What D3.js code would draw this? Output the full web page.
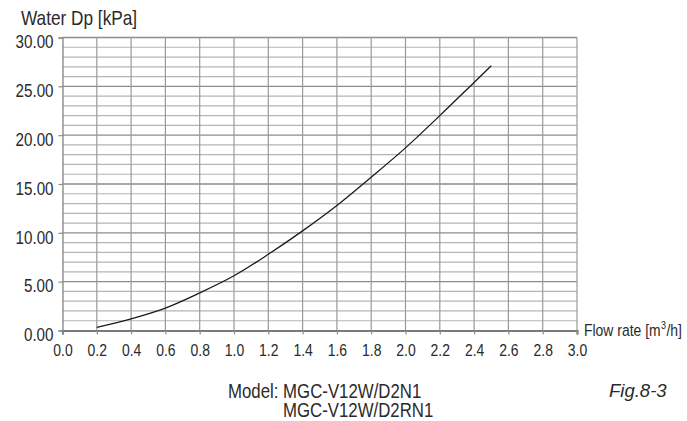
<!DOCTYPE html>
<html>
<head>
<meta charset="utf-8">
<script src="https://cdn.jsdelivr.net/npm/d3@7"></script>
<style>
  html, body { margin: 0; padding: 0; background: #fff; }
  svg { display: block; }
  text { font-family: "Liberation Sans", Arial, sans-serif; fill: #2a2a2a; }
</style>
</head>
<body>
<svg id="chart" width="687" height="421"></svg>
<script>
// Flow rate (m3/h) vs water pressure drop (kPa)
const flowRate = [0.2, 0.4, 0.6, 0.8, 1.0, 1.2, 1.4, 1.6, 1.8, 2.0, 2.2, 2.4, 2.5];
const pressureDrop = [0.33, 1.2, 2.3, 3.85, 5.6, 7.8, 10.2, 12.8, 15.7, 18.7, 22.0, 25.4, 27.1];

const xTicks = [0.0, 0.2, 0.4, 0.6, 0.8, 1.0, 1.2, 1.4, 1.6, 1.8, 2.0, 2.2, 2.4, 2.6, 2.8, 3.0];
const yTicks = [0, 5, 10, 15, 20, 25, 30];
const yMinorTicks = d3.range(1, 31);

const yTitle = "Water Dp [kPa]";
const modelLines = ["Model: MGC-V12W/D2N1", "MGC-V12W/D2RN1"];
const figLabel = "Fig.8-3";

const NARROW = 0.82; // condensed look for the sans labels

// squeeze a text element horizontally, keeping its anchor point
function narrow(selection) {
  selection.each(function () {
    const len = this.getComputedTextLength();
    d3.select(this)
      .attr("textLength", len * NARROW)
      .attr("lengthAdjust", "spacingAndGlyphs");
  });
}

const svg = d3.select("#chart");

const x = d3.scaleLinear().domain([0, 3]).range([62.5, 577]);
const y = d3.scaleLinear().domain([0, 30]).range([330.5, 37.5]);

const grid = svg.append("g");

// horizontal grid: every 1 kPa, slightly darker every 5 kPa
grid.selectAll("line.h")
  .data(yMinorTicks)
  .join("line")
  .attr("x1", x(0)).attr("x2", x(3))
  .attr("y1", d => y(d)).attr("y2", d => y(d))
  .attr("stroke", d => d % 5 === 0 ? "#8c8c8c" : "#b4b4b4")
  .attr("stroke-width", d => d % 5 === 0 ? 1.4 : 1.2);

// vertical grid: every 0.2 m3/h
grid.selectAll("line.v")
  .data(xTicks.slice(1))
  .join("line")
  .attr("x1", d => x(d)).attr("x2", d => x(d))
  .attr("y1", y(30)).attr("y2", y(0))
  .attr("stroke", "#9a9a9a")
  .attr("stroke-width", 1.2);

// left axis
const yAxis = d3.axisLeft(y)
  .tickValues(yTicks)
  .tickSize(4)
  .tickPadding(5)
  .tickFormat(d3.format(".2f"));
const gy = svg.append("g").attr("transform", `translate(${x(0)},0)`).call(yAxis);
gy.attr("font-family", null).attr("font-size", null);
gy.select(".domain").attr("stroke", "#8c8c8c").attr("stroke-width", 1.4);
gy.selectAll(".tick line").attr("stroke", "#8c8c8c").attr("stroke-width", 1.2);
gy.selectAll(".tick text")
  .attr("font-size", 18.5)
  .attr("dy", "0.55em")
  .attr("fill", "#2a2a2a")
  .call(narrow);

// bottom axis
const xAxis = d3.axisBottom(x)
  .tickValues(xTicks)
  .tickSize(4)
  .tickPadding(9)
  .tickFormat(d3.format(".1f"));
const gx = svg.append("g").attr("transform", `translate(0,${y(0)})`).call(xAxis);
gx.attr("font-family", null).attr("font-size", null);
gx.select(".domain").attr("stroke", "#7a7a7a").attr("stroke-width", 2.2);
gx.selectAll(".tick line").attr("stroke", "#8c8c8c").attr("stroke-width", 1.2);
gx.selectAll(".tick text")
  .attr("font-size", 17)
  .attr("fill", "#2a2a2a")
  .call(narrow);

// pressure drop curve
const line = d3.line()
  .x((d, i) => x(flowRate[i]))
  .y(d => y(d))
  .curve(d3.curveCatmullRom);
svg.append("path")
  .datum(pressureDrop)
  .attr("d", line)
  .attr("fill", "none")
  .attr("stroke", "#1a1a1a")
  .attr("stroke-width", 1.3);

// y-axis title
svg.append("text")
  .attr("x", 21).attr("y", 24.5)
  .attr("font-size", 21)
  .text(yTitle)
  .call(narrow);

// x-axis title with superscript unit, condensed through a horizontal scale
const xt = svg.append("g")
  .attr("transform", `translate(584,336) scale(${NARROW},1)`)
  .append("text")
  .attr("font-size", 17);
xt.append("tspan").text("Flow rate [m");
xt.append("tspan").attr("font-size", 11).attr("dx", 0.5).attr("baseline-shift", "7").text("3");
xt.append("tspan").attr("dx", 0.5).text("/h]");

// model caption, two lines in one text block
const mt = svg.append("g")
  .attr("transform", `translate(228,0) scale(${NARROW},1)`)
  .append("text")
  .attr("font-size", 20.5);
mt.append("tspan").attr("x", 0).attr("y", 398).text(modelLines[0]);
mt.append("tspan").attr("x", (283 - 228) / NARROW).attr("y", 417.5).text(modelLines[1]);

svg.append("text")
  .attr("x", 609).attr("y", 397)
  .attr("font-style", "italic")
  .attr("font-size", 18.5)
  .text(figLabel);
</script>
</body>
</html>
